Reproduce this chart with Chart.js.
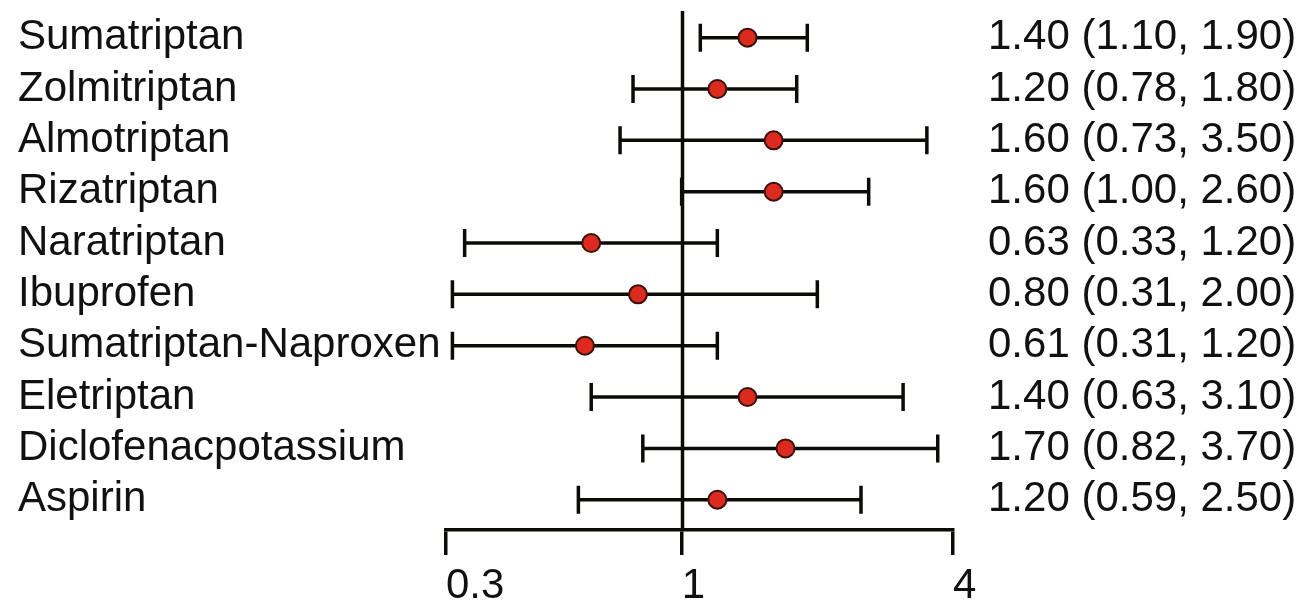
<!DOCTYPE html>
<html>
<head>
<meta charset="utf-8">
<script src="https://cdn.jsdelivr.net/npm/chart.js@4"></script>
<style>
  html, body { margin: 0; padding: 0; background: #fff; }
  #wrap { width: 1304px; height: 600px; }
</style>
</head>
<body>
<div id="wrap"><canvas id="forestChart" width="1304" height="600"></canvas></div>
<script>
// data
const drugs = ['Sumatriptan', 'Zolmitriptan', 'Almotriptan', 'Rizatriptan', 'Naratriptan',
  'Ibuprofen', 'Sumatriptan-Naproxen', 'Eletriptan', 'Diclofenacpotassium', 'Aspirin'];
const estimate = [1.40, 1.20, 1.60, 1.60, 0.63, 0.80, 0.61, 1.40, 1.70, 1.20];
const lower = [1.10, 0.78, 0.73, 1.00, 0.33, 0.31, 0.31, 0.63, 0.82, 0.59];
const upper = [1.90, 1.80, 3.50, 2.60, 1.20, 2.00, 1.20, 3.10, 3.70, 2.50];
const xTicks = [0.3, 1, 4];
const refValue = 1;

const rows = drugs.map((d, i) => i);
const ciLabels = estimate.map((e, i) =>
  e.toFixed(2) + ' (' + lower[i].toFixed(2) + ', ' + upper[i].toFixed(2) + ')');

const ink = '#0b0b08';
const textFont = { family: 'Liberation Sans, Arial, sans-serif', size: 42 };

// no extra room for edge labels, the box is fixed by hand
function noPad(s) {
  s.paddingTop = 0; s.paddingBottom = 0; s.paddingLeft = 0; s.paddingRight = 0;
}

// reference line + error bars, drawn under the points
const forestPlugin = {
  id: 'forest',
  beforeDatasetsDraw(chart) {
    const ctx = chart.ctx;
    const xs = chart.scales.x, ys = chart.scales.y;
    const area = chart.chartArea;
    ctx.save();
    ctx.strokeStyle = ink;
    ctx.lineWidth = 3.5;
    // vertical line at 1
    const rx = Math.round(xs.getPixelForValue(refValue)) + 0.5;
    ctx.beginPath();
    ctx.moveTo(rx, area.top);
    ctx.lineTo(rx, area.bottom);
    ctx.stroke();
    // CI bars
    const cap = 14;
    rows.forEach(i => {
      const y = ys.getPixelForValue(i);
      const x0 = xs.getPixelForValue(lower[i]);
      const x1 = xs.getPixelForValue(upper[i]);
      ctx.beginPath();
      ctx.moveTo(x0, y); ctx.lineTo(x1, y);
      ctx.moveTo(x0, y - cap); ctx.lineTo(x0, y + cap);
      ctx.moveTo(x1, y - cap); ctx.lineTo(x1, y + cap);
      ctx.stroke();
    });
    ctx.restore();
  }
};

new Chart(document.getElementById('forestChart'), {
  type: 'scatter',
  data: {
    datasets: [{
      data: rows.map(i => ({ x: estimate[i], y: i })),
      pointRadius: 9,
      pointHoverRadius: 9,
      backgroundColor: '#dc2a1e',
      borderColor: '#3a120c',
      borderWidth: 2
    }]
  },
  options: {
    responsive: false,
    animation: false,
    layout: { padding: { left: 18, right: 0, top: 9, bottom: 0 } },
    plugins: { legend: { display: false }, tooltip: { enabled: false } },
    scales: {
      x: {
        type: 'logarithmic',
        min: 0.3,
        max: 4,
        afterBuildTicks: s => { s.ticks = xTicks.map(v => ({ value: v })); },
        afterFit: s => { s.height = 70; noPad(s); },
        grid: { drawOnChartArea: false, tickLength: 25, lineWidth: 3.5, color: ink },
        border: { display: true, width: 3.5, color: ink },
        ticks: {
          align: 'start',
          padding: 6,
          color: '#111',
          font: textFont,
          maxRotation: 0,
          autoSkip: false,
          callback: v => String(v)
        }
      },
      y: {
        type: 'linear',
        position: 'left',
        reverse: true,
        min: -0.52,
        max: 9.59,
        afterBuildTicks: s => { s.ticks = rows.map(v => ({ value: v })); },
        afterFit: s => { s.width = 428; noPad(s); },
        grid: { display: false, drawTicks: false },
        border: { display: false },
        ticks: {
          crossAlign: 'far',
          autoSkip: false,
          color: '#111',
          font: textFont,
          callback: v => drugs[v]
        }
      },
      y2: {
        type: 'linear',
        position: 'right',
        reverse: true,
        min: -0.52,
        max: 9.59,
        afterBuildTicks: s => { s.ticks = rows.map(v => ({ value: v })); },
        afterFit: s => { s.width = 351; noPad(s); },
        grid: { display: false, drawTicks: false },
        border: { display: false },
        ticks: {
          crossAlign: 'near',
          autoSkip: false,
          padding: 35,
          color: '#111',
          font: textFont,
          callback: v => ciLabels[v]
        }
      }
    }
  },
  plugins: [forestPlugin]
});
</script>
</body>
</html>
